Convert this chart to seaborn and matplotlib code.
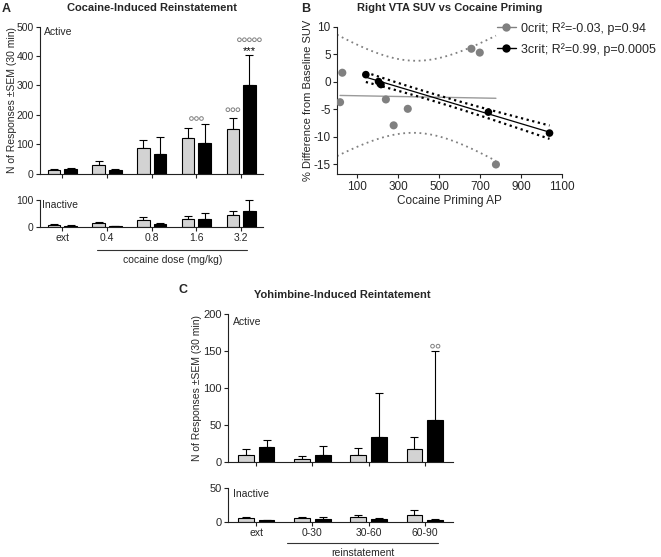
import numpy as np
import pandas as pd
import matplotlib
matplotlib.use("Agg")
import matplotlib.pyplot as plt
import matplotlib.transforms as mtransforms
from matplotlib.lines import Line2D
import seaborn as sns

sns.set_style("ticks")
plt.rcParams['font.family'] = ['Liberation Sans', 'DejaVu Sans']
plt.rcParams['axes.unicode_minus'] = False

# ---------------- data ----------------
groups = ["0crit", "3crit"]

dose_cats = ["ext", "0.4", "0.8", "1.6", "3.2"]
A_active_0crit = [11, 30, 87, 120, 150]
A_active_0crit_sem = [6, 13, 28, 35, 40]
A_active_3crit = [16, 13, 65, 103, 302]
A_active_3crit_sem = [2, 4, 60, 64, 102]
A_inactive_0crit = [9, 14, 27, 28, 43]
A_inactive_0crit_sem = [3, 5, 10, 14, 16]
A_inactive_3crit = [4.5, 3.5, 10, 29, 58]
A_inactive_3crit_sem = [1.5, 1, 4, 23, 42]
# significance marks: (category index, hue: -1 gray / 0 group / +1 black, number of circles, gap above error bar)
A_marks = [(3, 0, 3, 20), (4, -1, 3, 27), (4, 1, 5, 51)]

yoh_cats = ["ext", "0-30", "30-60", "60-90"]
C_active_0crit = [10, 4.5, 9.5, 18]
C_active_0crit_sem = [8, 3.5, 9, 15]
C_active_3crit = [20, 10, 33, 57]
C_active_3crit_sem = [10, 12, 60, 93]
C_inactive_0crit = [6, 6, 7, 11]
C_inactive_0crit_sem = [2, 2, 4, 6]
C_inactive_3crit = [3, 4.5, 5, 3]
C_inactive_3crit_sem = [0.5, 3, 1, 1]
C_marks = [(3, 1, 2, 6)]

B_0crit_x = [15, 26, 239, 277, 346, 657, 698, 777]
B_0crit_y = [-3.7, 1.65, -3.2, -7.9, -4.9, 6.0, 5.3, -15.0]
B_3crit_x = [141, 203, 215, 740, 1039]
B_3crit_y = [1.3, 0.05, -0.5, -5.5, -9.3]
B_labels = ["0crit; R²=-0.03, p=0.94", "3crit; R²=0.99, p=0.0005"]
B_xticks = [100, 300, 500, 700, 900, 1100]
B_yticks = [-15, -10, -5, 0, 5, 10]

# ---------------- figure ----------------
W, H = 661, 557
fig = plt.figure(figsize=(W / 100, H / 100), dpi=100)


def px_axes(x0, y0, x1, y1):
    return fig.add_axes([x0 / W, 1 - y1 / H, (x1 - x0) / W, (y1 - y0) / H])


PAL = {"0crit": "#d3d3d3", "3crit": "#000000"}
LW = 0.8
BAR_W, BAR_GAP = 0.74, 0.24
HUE_OFF = BAR_W / 4


def style_axes(ax, labelsize=7.5):
    sns.despine(ax=ax)
    for s in ("left", "bottom"):
        ax.spines[s].set_linewidth(LW)
        ax.spines[s].set_color("#222222")
    ax.tick_params(length=3, width=LW, labelsize=labelsize, pad=1.5, color="#222222")


def bars(ax, cats, m0, s0, m1, s1, ylim, yticks, show_xlabels, ylabsize=7.5):
    df = pd.DataFrame({
        "cat": cats * 2,
        "grp": [groups[0]] * len(cats) + [groups[1]] * len(cats),
        "mean": list(m0) + list(m1),
    })
    sns.barplot(data=df, x="cat", y="mean", hue="grp", order=cats, hue_order=groups,
                palette=PAL, width=BAR_W, gap=BAR_GAP, errorbar=None, edgecolor="black",
                linewidth=LW, legend=False, ax=ax, zorder=2)
    for p in list(ax.patches):
        xc = p.get_x() + p.get_width() / 2
        i = int(round(xc))
        g = 0 if xc < i else 1
        sem = (s0 if g == 0 else s1)[i]
        ax.errorbar(xc, p.get_height(), yerr=[[0], [sem]], color="black", lw=LW,
                    capsize=2.6, capthick=LW, zorder=1, clip_on=False)
    ax.set_xlim(-0.5, len(cats) - 0.5)
    ax.set_ylim(*ylim)
    ax.set_yticks(yticks)
    ax.set_xlabel("")
    ax.set_ylabel("")
    style_axes(ax)
    ax.tick_params(axis="y", labelsize=ylabsize)
    if not show_xlabels:
        ax.set_xticklabels([])


def sig_marks(ax, marks, m0, s0, m1, s1, step_px):
    # small open circles above bars, positioned from the bar data
    inv = ax.transData.inverted()
    x0d = inv.transform((0, 0))[0]
    x1d = inv.transform((step_px, 0))[0]
    step = x1d - x0d
    out = []
    for (i, h, n, gap) in marks:
        if h < 0:
            top = m0[i] + s0[i]
        elif h > 0:
            top = m1[i] + s1[i]
        else:
            top = max(m0[i] + s0[i], m1[i] + s1[i])
        xc = i + h * HUE_OFF
        xs = xc + (np.arange(n) - (n - 1) / 2) * step
        ax.scatter(xs, [top + gap] * n, s=7, facecolors="none", edgecolors="#808080",
                   linewidths=0.7, clip_on=False, zorder=5)
        out.append((xc, top))
    return out


# ---------- Panel A ----------
axA1 = px_axes(40, 26.5, 263.5, 173.5)
bars(axA1, dose_cats, A_active_0crit, A_active_0crit_sem, A_active_3crit, A_active_3crit_sem,
     (0, 500), [0, 100, 200, 300, 400, 500], False, ylabsize=7.5)
axA1.text(0.02, 0.965, "Active", transform=axA1.transAxes, fontsize=7.5, va="center", ha="left")
pos = sig_marks(axA1, A_marks, A_active_0crit, A_active_0crit_sem, A_active_3crit, A_active_3crit_sem, 5)
axA1.text(pos[2][0], pos[2][1] + 14, "***", ha="center", va="center", fontsize=8, color="black")

axA2 = px_axes(40, 200, 263.5, 227)
bars(axA2, dose_cats, A_inactive_0crit, A_inactive_0crit_sem, A_inactive_3crit, A_inactive_3crit_sem,
     (0, 100), [0, 100], True, ylabsize=7.5)
axA2.text(0.01, 0.83, "Inactive", transform=axA2.transAxes, fontsize=7.5, va="center", ha="left")
trA = mtransforms.blended_transform_factory(axA2.transData, fig.transFigure)
axA2.plot([0.77, 4.14], [1 - 250 / H, 1 - 250 / H], color="#333333", lw=LW, transform=trA, clip_on=False)
fig.text(172.5 / W, 1 - 260 / H, "cocaine dose (mg/kg)", ha="center", va="center", fontsize=7.5)

fig.text(12 / W, 1 - 100 / H, "N of Responses ±SEM (30 min)", rotation=90, ha="center", va="center", fontsize=7.5)
fig.text(152 / W, 1 - 8 / H, "Cocaine-Induced Reinstatement", ha="center", va="center", fontsize=8, fontweight="bold")
fig.text(6.5 / W, 1 - 9 / H, "A", ha="center", va="center", fontsize=9, fontweight="bold")

# ---------- Panel B ----------
axB = px_axes(337, 26.7, 562, 174.4)


def fit_band(x, y, xg, tval):
    x = np.asarray(x, float)
    y = np.asarray(y, float)
    n = len(x)
    b, a = np.polyfit(x, y, 1)
    res = y - (a + b * x)
    s = np.sqrt(np.sum(res ** 2) / (n - 2))
    sxx = np.sum((x - x.mean()) ** 2)
    se = s * np.sqrt(1 / n + (xg - x.mean()) ** 2 / sxx)
    yh = a + b * xg
    return yh, yh - tval * se, yh + tval * se


# 0crit
xl = np.linspace(min(B_0crit_x), max(B_0crit_x), 100)
xb = np.linspace(0, max(B_0crit_x), 100)
yh, _, _ = fit_band(B_0crit_x, B_0crit_y, xl, 2.447)
_, lo, hi = fit_band(B_0crit_x, B_0crit_y, xb, 2.447)
sns.lineplot(x=xl, y=yh, color="#9a9a9a", lw=1.0, ax=axB, zorder=2)
axB.plot(xb, lo, color="#808080", lw=1.3, ls=(0, (1, 2)), zorder=2)
axB.plot(xb, hi, color="#808080", lw=1.3, ls=(0, (1, 2)), zorder=2)
sns.scatterplot(x=B_0crit_x, y=B_0crit_y, color="#808080", s=34, edgecolor="none", ax=axB, zorder=3)

# 3crit
xl3 = np.linspace(min(B_3crit_x), max(B_3crit_x), 100)
yh3, lo3, hi3 = fit_band(B_3crit_x, B_3crit_y, xl3, 3.182)
sns.lineplot(x=xl3, y=yh3, color="black", lw=0.9, ax=axB, zorder=2)
axB.plot(xl3, lo3, color="black", lw=1.6, ls=(0, (1, 1.6)), zorder=2)
axB.plot(xl3, hi3, color="black", lw=1.6, ls=(0, (1, 1.6)), zorder=2)
sns.scatterplot(x=B_3crit_x, y=B_3crit_y, color="black", s=30, edgecolor="none", ax=axB, zorder=4)

axB.set_xlim(0, 1100)
axB.set_ylim(-16.8, 10)
axB.set_xticks(B_xticks)
axB.set_yticks(B_yticks)
style_axes(axB, labelsize=8.5)
axB.set_xlabel("Cocaine Priming AP", fontsize=8.5, labelpad=2)
axB.set_ylabel("% Difference from Baseline SUV", fontsize=8, labelpad=0.5)
handles = [Line2D([0], [0], color="#808080", marker="o", markersize=6, lw=1, markeredgewidth=0),
           Line2D([0], [0], color="black", marker="o", markersize=6, lw=1, markeredgewidth=0)]
fig.legend(handles, B_labels, loc="upper left", bbox_to_anchor=(497 / W, 1 - 22 / H), frameon=False,
           fontsize=9, borderaxespad=0, borderpad=0, handlelength=1.5, handletextpad=0.45, labelspacing=0.65)
fig.text(450 / W, 1 - 8 / H, "Right VTA SUV vs Cocaine Priming", ha="center", va="center", fontsize=8, fontweight="bold")
fig.text(306 / W, 1 - 9 / H, "B", ha="center", va="center", fontsize=9, fontweight="bold")

# ---------- Panel C ----------
axC1 = px_axes(228, 313.5, 453, 462)
bars(axC1, yoh_cats, C_active_0crit, C_active_0crit_sem, C_active_3crit, C_active_3crit_sem,
     (0, 200), [0, 50, 100, 150, 200], False, ylabsize=8)
axC1.text(0.02, 0.945, "Active", transform=axC1.transAxes, fontsize=7.5, va="center", ha="left")
sig_marks(axC1, C_marks, C_active_0crit, C_active_0crit_sem, C_active_3crit, C_active_3crit_sem, 5.5)

axC2 = px_axes(228, 488, 453, 522)
bars(axC2, yoh_cats, C_inactive_0crit, C_inactive_0crit_sem, C_inactive_3crit, C_inactive_3crit_sem,
     (0, 50), [0, 50], True, ylabsize=8)
axC2.text(0.02, 0.82, "Inactive", transform=axC2.transAxes, fontsize=7.5, va="center", ha="left")
trC = mtransforms.blended_transform_factory(axC2.transData, fig.transFigure)
axC2.plot([0.54, 3.24], [1 - 543 / H, 1 - 543 / H], color="#333333", lw=LW, transform=trC, clip_on=False)
fig.text(362.5 / W, 1 - 552.5 / H, "reinstatement", ha="center", va="center", fontsize=7.5)

fig.text(197 / W, 1 - 388 / H, "N of Responses ±SEM (30 min)", rotation=90, ha="center", va="center", fontsize=7.5)
fig.text(342 / W, 1 - 295 / H, "Yohimbine-Induced Reintatement", ha="center", va="center", fontsize=8, fontweight="bold")
fig.text(183 / W, 1 - 290 / H, "C", ha="center", va="center", fontsize=9, fontweight="bold")

fig.savefig("out.png", dpi=100)
